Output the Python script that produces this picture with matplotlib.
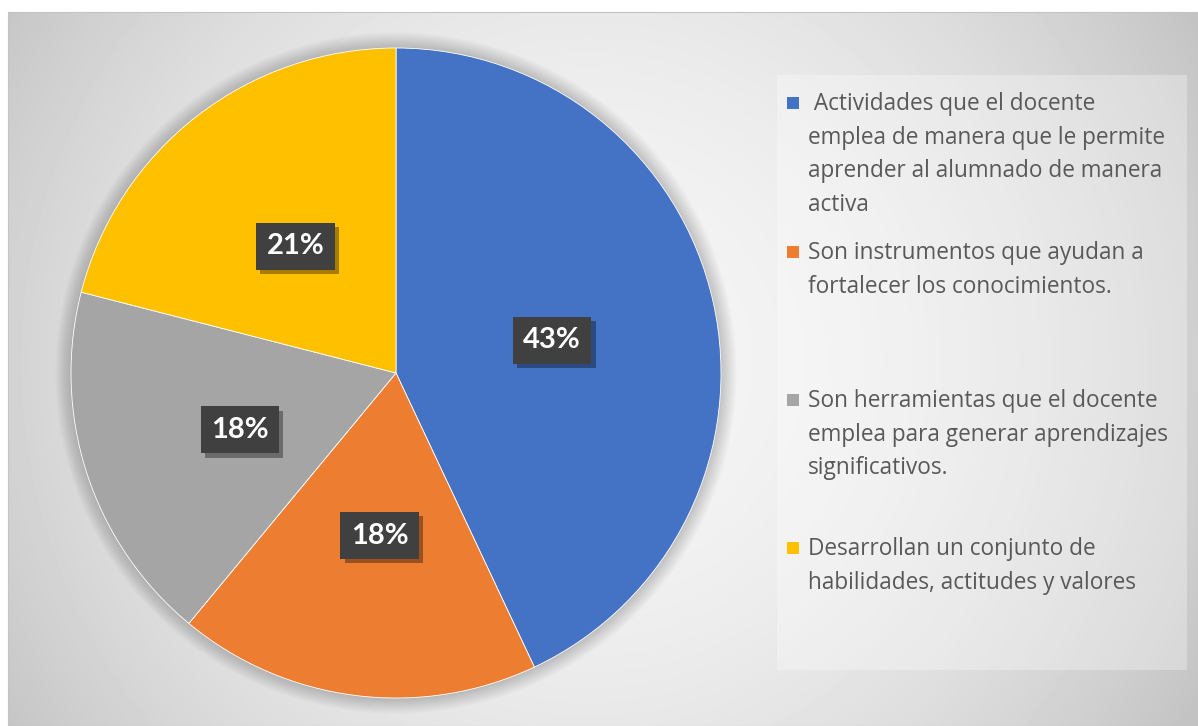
import numpy as np
import matplotlib.pyplot as plt
import matplotlib.patheffects as pe
from matplotlib.patches import Rectangle, Circle

# datos del grafico
labels = [
    " Actividades que el docente\nemplea de manera que le permite\naprender al alumnado de manera\nactiva",
    "Son instrumentos que ayudan a\nfortalecer los conocimientos.",
    "Son herramientas que el docente\nemplea para generar aprendizajes\nsignificativos.",
    "Desarrollan un conjunto de\nhabilidades, actitudes y valores",
]
values = [43, 18, 18, 21]
colors = ['#4472C4', '#ED7D31', '#A5A5A5', '#FFC000']

# posiciones de las etiquetas (coordenadas del pie, radio 1)
label_pos = [(0.48, 0.10), (-0.05, -0.50), (-0.48, -0.175), (-0.31, 0.39)]
# posicion vertical de cada entrada de la leyenda (px desde arriba)
legend_y = [103, 252, 400, 548]

W, H = 1198, 726
fig = plt.figure(figsize=(W / 100, H / 100), dpi=100)

# fondo con degradado radial
bg = fig.add_axes([8 / W, 0, (W - 8) / W, (H - 12) / H])
yy, xx = np.mgrid[0:714, 0:1190]
d = np.hypot(xx - 580, yy - 350)
shade = 0.96 - 0.2 * (d / d.max()) ** 2
bg.imshow(shade, cmap='gray', vmin=0, vmax=1, aspect='auto', interpolation='bilinear')
bg.set_xticks([])
bg.set_yticks([])
for s in bg.spines.values():
    s.set_color('#c4c4c4')

# pie
ax = fig.add_axes([71 / W, 28 / H, 650 / W, 650 / H])
for i in range(12):
    ax.add_patch(Circle((0, 0), 1 + 0.004 * (i + 1), color='k', alpha=0.015,
                        zorder=0, clip_on=False, lw=0))
ax.pie(values, colors=colors, startangle=90, counterclock=False, radius=1,
       wedgeprops=dict(edgecolor='white', linewidth=0.6))
ax.set_xlim(-1, 1)
ax.set_ylim(-1, 1)
ax.axis('off')

for v, (x, y) in zip(values, label_pos):
    t = ax.text(x, y, f'{v}%', ha='center', va='center', color='white',
                fontsize=21, fontweight='bold', family='Lato',
                bbox=dict(boxstyle='square,pad=0.36', fc='#404040', ec='none'))
    t.get_bbox_patch().set_path_effects([
        pe.withSimplePatchShadow(offset=(3, -3), shadow_rgbFace='k', alpha=0.35),
        pe.Normal()])

# leyenda
fig.patches.append(Rectangle((777 / W, 1 - 670 / H), 410 / W, 595 / H,
                             transform=fig.transFigure, fc='white', alpha=0.3, ec='none'))
for lab, c, y in zip(labels, colors, legend_y):
    fig.patches.append(Rectangle((787 / W, 1 - (y + 6) / H), 12 / W, 12 / H,
                                 transform=fig.transFigure, fc=c, ec='none'))
    fig.text(808 / W, 1 - (y - 11) / H, lab, ha='left', va='top',
             fontsize=16.3, family='Open Sans', color='#595959', linespacing=1.53)

plt.savefig('out.png', dpi=100)
